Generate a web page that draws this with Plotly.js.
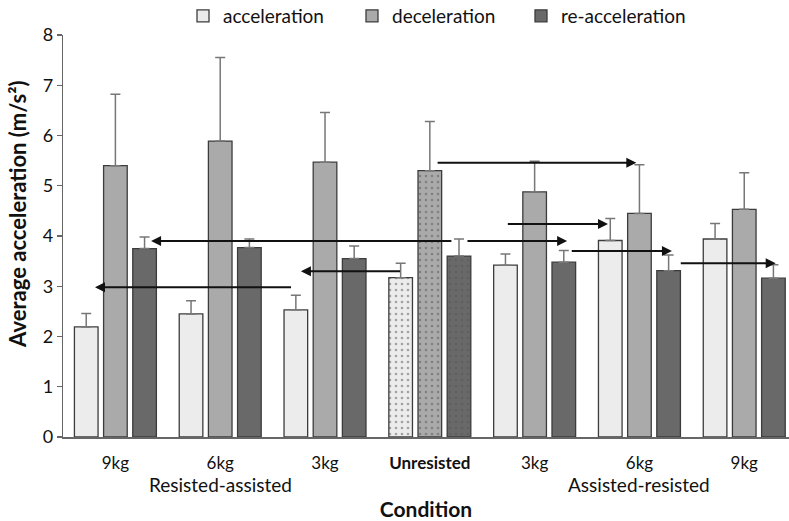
<!DOCTYPE html>
<html>
<head>
<meta charset="utf-8">
<script src="https://cdn.plot.ly/plotly-3.0.1.min.js"></script>
<style>html,body{margin:0;padding:0;background:#fff}#chart{width:789px;height:521px}</style>
</head>
<body>
<div id="chart"></div>
<script>
// ---- data ----
const tickLabels = ["9kg", "6kg", "3kg", "<b>Unresisted</b>", "3kg", "6kg", "9kg"];
const groupLabels = ["Resisted-assisted", "Assisted-resisted"];
const groupLabelPos = [1, 5];
const accelMean = [2.19, 2.45, 2.53, 3.17, 3.42, 3.91, 3.94];
const accelTop  = [2.46, 2.71, 2.82, 3.46, 3.64, 4.35, 4.25];
const decelMean = [5.40, 5.89, 5.47, 5.30, 4.88, 4.45, 4.53];
const decelTop  = [6.82, 7.55, 6.46, 6.28, 5.49, 5.42, 5.26];
const reaccMean = [3.75, 3.77, 3.55, 3.60, 3.48, 3.31, 3.16];
const reaccTop  = [3.98, 3.94, 3.80, 3.94, 3.71, 3.62, 3.43];
const patterned = [false, false, false, true, false, false, false];
// arrows: [tailX, headX, y] in axis units
const arrows = [
  [1.69, -0.195, 2.98],
  [2.73, 1.77, 3.30],
  [3.22, 0.34, 3.90],
  [3.345, 4.31, 3.90],
  [3.06, 4.97, 5.46],
  [3.73, 4.70, 4.24],
  [4.34, 5.31, 3.70],
  [5.38, 6.30, 3.46]
];

const xs = tickLabels.map((_, i) => i);
const FONT = "Lato, 'Open Sans', sans-serif";

function series(name, mean, top, color) {
  return {
    type: "bar", name: name, x: xs, y: mean,
    marker: {
      color: color,
      line: {color: "#3c3c3c", width: 1.3},
      pattern: {
        shape: patterned.map(p => p ? "." : ""),
        fgcolor: "#555", size: 6, solidity: 0.15, fillmode: "overlay"
      }
    },
    error_y: {
      type: "data", symmetric: false,
      array: top.map((t, i) => +(t - mean[i]).toFixed(3)),
      arrayminus: mean.map(() => 0),
      color: "#777", thickness: 1.5, width: 5
    }
  };
}

const data = [
  series("acceleration", accelMean, accelTop, "#ececec"),
  series("deceleration", decelMean, decelTop, "#aaaaaa"),
  series("re-acceleration", reaccMean, reaccTop, "#696969")
];

const annotations = arrows.map(a => ({
  x: a[1], y: a[2], ax: a[0], ay: a[2],
  xref: "x", yref: "y", axref: "x", ayref: "y",
  showarrow: true, arrowhead: 2, arrowsize: 1.0, arrowwidth: 2,
  arrowcolor: "#111", standoff: 0, startstandoff: 0, text: ""
}));
groupLabels.forEach((t, i) => annotations.push({
  x: groupLabelPos[i], y: -0.119, xref: "x", yref: "paper",
  text: t, showarrow: false, yanchor: "middle",
  font: {family: FONT, size: 19, color: "#111"}
}));
// y-axis title (placed like the reference, above the plot's middle)
annotations.push({
  x: -0.062, y: 0.555, xref: "paper", yref: "paper", textangle: -90,
  xanchor: "center", yanchor: "middle", showarrow: false,
  text: "<b>Average acceleration (m/s²)</b>",
  font: {family: FONT, size: 22, color: "#111"}
});

const layout = {
  width: 789, height: 521,
  margin: {l: 63, r: 0, t: 16, b: 84},
  paper_bgcolor: "#fff", plot_bgcolor: "#fff",
  font: {family: FONT, size: 17, color: "#111"},
  barmode: "group", bargap: 0.165, bargroupgap: 0.19,
  showlegend: true,
  legend: {
    orientation: "h", x: 183 / 789, y: 1 - 16 / 521, xref: "container", yref: "container",
    xanchor: "left", yanchor: "middle",
    font: {family: FONT, size: 19, color: "#111"},
    entrywidth: 124, entrywidthmode: "pixels",
    itemwidth: 30, bgcolor: "rgba(0,0,0,0)", tracegroupgap: 0
  },
  xaxis: {
    range: [-0.5, 6.427], tickvals: xs, ticktext: tickLabels,
    showgrid: false, zeroline: false, showline: true, linecolor: "#666", linewidth: 1.5,
    ticks: "", ticklabelstandoff: 10,
    tickfont: {family: FONT, size: 17, color: "#111"},
    title: {text: "<b>Condition</b>", standoff: 40, font: {family: FONT, size: 21, color: "#111"}}
  },
  yaxis: {
    range: [0, 8], dtick: 1, showgrid: false, zeroline: false,
    showline: true, linecolor: "#666", linewidth: 1.3,
    ticks: "outside", ticklen: 5, tickcolor: "#666", tickwidth: 1.3,
    tickfont: {family: FONT, size: 18, color: "#111"}
  },
  annotations: annotations
};

Plotly.newPlot("chart", data, layout, {displayModeBar: false, staticPlot: true});
</script>
</body>
</html>
